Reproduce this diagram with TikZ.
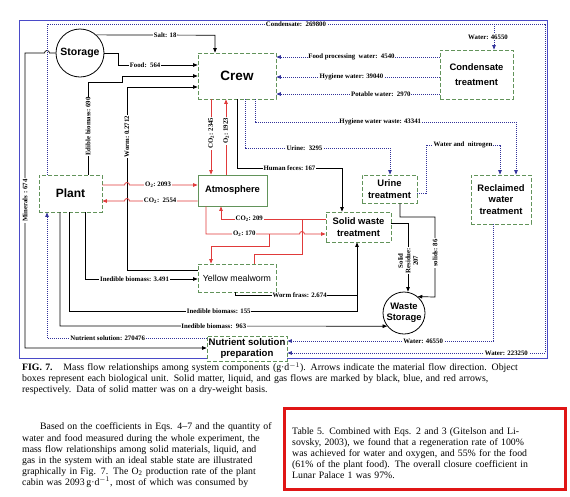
\documentclass[tikz,border=0pt]{standalone}
\usepackage{fontspec}
\setmainfont{Liberation Serif}
\setsansfont{Liberation Sans}
\usetikzlibrary{arrows.meta}

\definecolor{boxgreen}{HTML}{62935A}
\definecolor{flowblue}{HTML}{32329A}
\definecolor{flowred}{HTML}{E03A3A}
\definecolor{frameblue}{HTML}{4A4AC8}
\definecolor{markred}{HTML}{E01515}

\newcommand{\spreadline}[2]{\makebox[#1][s]{#2}}

\tikzstyle{unitbox} = [draw=boxgreen, dash pattern=on 4pt off 2pt, line width=0.8pt, fill=white, inner sep=0pt, align=center, font=\sffamily\bfseries\fontsize{9.4}{11.5}\selectfont]
\tikzstyle{gasbox} = [draw=boxgreen, line width=0.8pt, fill=white, inner sep=0pt, align=center, font=\sffamily\bfseries\fontsize{9.4}{11.5}\selectfont]
\tikzstyle{storebox} = [circle, draw, line width=0.8pt, fill=white, inner sep=0pt, align=center, font=\sffamily\bfseries\fontsize{9.4}{11.5}\selectfont]
\tikzstyle{flowlbl} = [fill=white, text=black, inner sep=0.8pt, align=center, font=\bfseries\fontsize{6.8}{7.5}\selectfont]
\tikzstyle{solidflow} = [black, line width=0.7pt, -{Triangle[length=4.5pt,width=3.5pt]}]
\tikzstyle{waterflow} = [flowblue, line width=0.8pt, dash pattern=on 1pt off 1pt, -{Triangle[length=4.5pt,width=3.5pt]}]
\tikzstyle{gasflow} = [flowred, line width=0.8pt, -{Triangle[length=4.5pt,width=3.5pt]}]
\tikzstyle{textblk} = [inner sep=0pt, anchor=north west, font=\fontsize{9.8}{11.1}\selectfont]

\begin{document}
\begin{tikzpicture}[x=1pt, y=-1pt]
\useasboundingbox (0,0) rectangle (570,496);

% frame of the figure
\draw[frameblue, line width=1pt] (19,20) rectangle (547,358);

% units
\node[storebox, minimum size=48pt, font=\sffamily\bfseries\fontsize{10.5}{12}\selectfont] (storage) at (80,53) {Storage};
\node[unitbox, minimum width=78pt, minimum height=46pt, font=\sffamily\bfseries\fontsize{13.5}{15}\selectfont] (crew) at (237,76) {Crew};
\node[unitbox, minimum width=73pt, minimum height=49pt, font=\sffamily\bfseries\fontsize{9.4}{15.5}\selectfont] (cond) at (476.5,74.5) {Condensate\\treatment};
\node[unitbox, minimum width=63pt, minimum height=37pt, font=\sffamily\bfseries\fontsize{12}{14}\selectfont] (plant) at (70.5,193.5) {Plant};
\node[gasbox, minimum width=69pt, minimum height=31pt] (atmos) at (232.5,190.5) {Atmosphere};
\node[unitbox, minimum width=78pt, minimum height=28pt, font=\sffamily\fontsize{8.8}{10}\selectfont] (worm) at (237,278) {Yellow mealworm};
\node[unitbox, minimum width=55pt, minimum height=28pt] (urine) at (389.5,189) {Urine\\treatment};
\node[unitbox, minimum width=65pt, minimum height=30pt] (solidw) at (358.5,227) {Solid waste\\treatment};
\node[unitbox, minimum width=60pt, minimum height=49pt] (reclaim) at (501,199.5) {Reclaimed\\water\\treatment};
\node[storebox, minimum size=42pt] (wastes) at (404,313) {Waste\\Storage};
\node[unitbox, minimum width=80pt, minimum height=25pt, font=\sffamily\bfseries\fontsize{9.6}{11.5}\selectfont] (nutri) at (247,348.5) {Nutrient solution\\preparation};

% solid flows
\draw[solidflow] (storage.48) -- (215,35.2) node[flowlbl,pos=0.58]{Salt: 18} -- (crew.north -| 215,0);
\draw[solidflow] (storage.east) -- (118,53) -- (118,65) -- (crew.west |- 0,65) node[flowlbl,pos=0.34]{Food:\ \ 564};
\draw[solidflow] (plant.north -| 88,0) -- (88,82) node[flowlbl,rotate=90,pos=0.52]{Edible biomass:\ 690} -- (122,82) -- (122,76) -- (crew.west |- 0,76);
\draw[solidflow] (worm.west |- 0,270) -- (127,270) -- (127,87) node[flowlbl,rotate=90,pos=0.73]{Worm:\ 0.2712} -- (crew.west |- 0,87);
\draw[solidflow] (crew.south -| 237,0) -- (237,168) -- (342,168) node[flowlbl,midway]{Human feces:\ 167} -- (solidw.north -| 342,0);
\draw[solidflow] (plant.south -| 85,0) -- (85,279) -- (worm.west |- 0,279) node[flowlbl,pos=0.44]{Inedible biomass: 3.491};
\coordinate (frassjoin) at (357,295);
\draw[solidflow] (worm.south -| 235,0) -- (235,295) -- (357,295) node[flowlbl,pos=0.53]{Worm frass: 2.674} -- (solidw.south -| 357,0);
\draw[black, line width=0.7pt] (plant.south -| 69,0) -- (69,311) -- (357,311) node[flowlbl,pos=0.52]{Inedible biomass: 155} -- (frassjoin);
\draw[solidflow] (plant.south -| 60,0) -- (60,326) -- (wastes.218) node[flowlbl,pos=0.47]{Inedible biomass:\ \ 963};
\draw[solidflow] (storage.west) -- (49.5,53) arc(0:-180:2.5) -- (25,53) -- (25,348) node[flowlbl,rotate=90,pos=0.5]{Minerals : 674} -- (nutri.west |- 0,348);
\draw[solidflow] (solidw.east |- 0,223) -- (408,223) -- (wastes.north -| 408,0) node[flowlbl,rotate=90,pos=0.55]{Solid\\Residue:\\207};
\draw[solidflow] (urine.south -| 400,0) -- (400,217) -- (435,217) -- (435,297) node[flowlbl,rotate=90,pos=0.45]{solids: 86} -- (wastes.50);

% water flows
\draw[waterflow] (plant.north -| 47,0) -- (47,24) -- (545,24) node[flowlbl,pos=0.5]{Condensate:\ \ 269800} -- (545,353) -- (nutri.east |- 0,353) node[flowlbl,pos=0.15]{Water: 223250};
\coordinate (condtap) at (494,24);
\draw[waterflow] (condtap) -- (cond.north -| 494,0) node[flowlbl,midway,xshift=-6pt]{Water: 46550};
\draw[waterflow] (cond.west |- 0,57) -- (crew.east |- 0,57) node[flowlbl,pos=0.54]{Food processing\ \ water:\ \ 4540};
\draw[waterflow] (cond.west |- 0,77) -- (crew.east |- 0,77) node[flowlbl,pos=0.54]{Hygiene water: 39040};
\draw[waterflow] (cond.west |- 0,94) -- (crew.east |- 0,94) node[flowlbl,pos=0.36]{Potable water:\ \ 2970};
\draw[waterflow] (crew.south -| 245,0) -- (245,148) -- (390,148) node[flowlbl,pos=0.41]{Urine:\ \ 3295} -- (urine.north -| 390,0);
\draw[waterflow] (crew.south -| 255,0) -- (255,122) -- (516,122) node[flowlbl,pos=0.48]{Hygiene water waste: 43341} -- (reclaim.north -| 516,0);
\draw[waterflow] (urine.east |- 0,193) -- (426,193) -- (426,145) -- (500,145) node[flowlbl,midway]{Water and\ \ nitrogen} -- (reclaim.north -| 500,0);
\draw[waterflow] (nutri.west |- 0,338) -- (47,338) node[flowlbl,pos=0.62]{Nutrient solution: 270476} -- (plant.south -| 47,0);
\draw[waterflow] (reclaim.south -| 493,0) -- (493,341) -- (nutri.east |- 0,341) node[flowlbl,pos=0.34]{Water: 46550};

% gas flows
\draw[gasflow] (crew.south -| 211,0) -- (atmos.north -| 211,0) node[flowlbl,rotate=90,pos=0.45]{CO\textsubscript{2}: 2345};
\draw[gasflow] (atmos.north -| 226,0) -- (crew.south -| 226,0) node[flowlbl,rotate=90,pos=0.58]{O\textsubscript{2}:\ 1923};
\draw[gasflow] (plant.east |- 0,185) -- (124.5,185) arc(180:360:2.5) -- (atmos.west |- 0,185) node[flowlbl,pos=0.42]{O\textsubscript{2}:\ 2093};
\draw[gasflow] (atmos.west |- 0,201) -- (129.5,201) node[flowlbl,pos=0.55]{CO\textsubscript{2}:\ \ 2554} arc(0:-180:2.5) -- (plant.east |- 0,201);
\draw[gasflow] (solidw.west |- 0,219) -- (221,219) node[flowlbl,pos=0.73]{CO\textsubscript{2}:\ 209} -- (atmos.south -| 221,0);
\coordinate (co2join) at (302,219);
\draw[flowred, line width=0.8pt] (worm.north -| 254,0) -- (254,254) -- (302,254) -- (co2join);
\draw[gasflow] (atmos.south -| 206,0) -- (206,234) -- (299.5,234) node[flowlbl,pos=0.41]{O\textsubscript{2}:\ 170} arc(180:360:2.5) -- (solidw.west |- 0,234);
\coordinate (o2split) at (269,234);
\draw[gasflow] (o2split) -- (269,246) -- (211,246) -- (worm.north -| 211,0);

% caption and text
\node[textblk, text width=540pt] (caption) at (22,362.3) {\noindent
\spreadline{540pt}{\textbf{FIG. 7.}\hspace{1.1em}Mass flow relationships among system components (g·d$^{-1}$). Arrows indicate the material flow direction. Object}\\
\spreadline{540pt}{boxes represent each biological unit. Solid matter, liquid, and gas flows are marked by black, blue, and red arrows,}\\
\spreadline{540pt}{respectively. Data of solid matter was on a dry-weight basis.\hfill}};

\node[textblk, text width=255pt] (para) at (22,422.8) {\noindent
\spreadline{255pt}{\hspace*{18pt}Based on the coefficients in Eqs. 4--7 and the quantity of}\\
\spreadline{255pt}{water and food measured during the whole experiment, the}\\
\spreadline{255pt}{mass flow relationships among solid materials, liquid, and}\\
\spreadline{255pt}{gas in the system with an ideal stable state are illustrated}\\
\spreadline{255pt}{graphically in Fig. 7. The O\textsubscript{2} production rate of the plant}\\
\spreadline{255pt}{cabin was 2093\,g·d$^{-1}$, most of which was consumed by}};

\draw[markred, line width=3pt] (284,408) rectangle (565,489);
\node[textblk, text width=265pt] (note) at (292,427) {\noindent
\spreadline{265pt}{Table 5. Combined with Eqs. 2 and 3 (Gitelson and Li-}\\
\spreadline{265pt}{sovsky, 2003), we found that a regeneration rate of 100\%}\\
\spreadline{265pt}{was achieved for water and oxygen, and 55\% for the food}\\
\spreadline{265pt}{(61\% of the plant food). The overall closure coefficient in}\\
\spreadline{265pt}{Lunar Palace 1 was 97\%.\hfill}};
\end{tikzpicture}
\end{document}
